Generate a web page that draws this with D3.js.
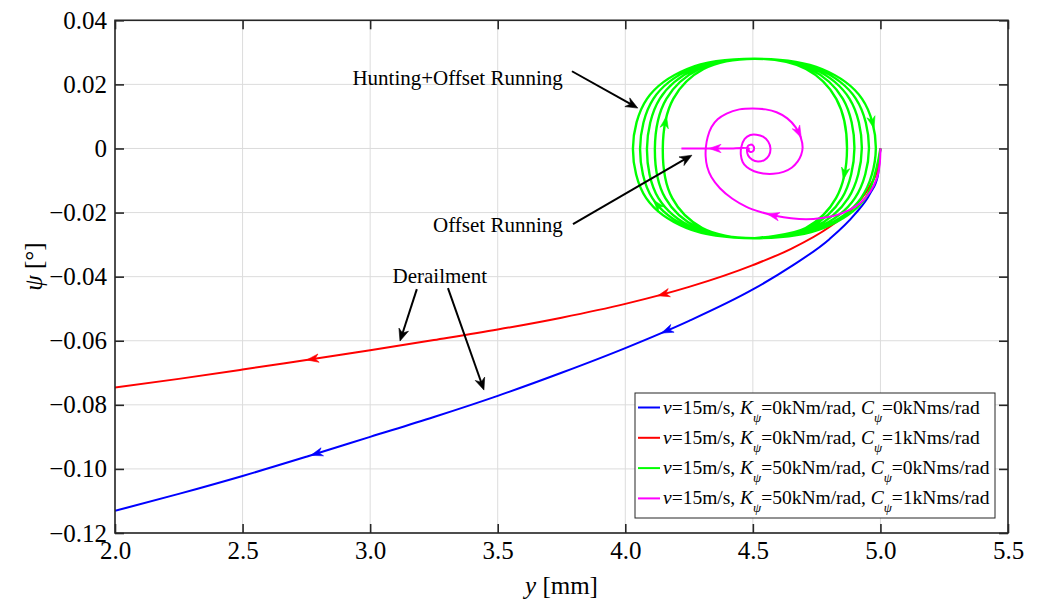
<!DOCTYPE html>
<html>
<head>
<meta charset="utf-8">
<script src="https://cdn.jsdelivr.net/npm/d3@7"></script>
<style>
  body { margin: 0; background: #fff; }
  svg text { font-family: "Liberation Serif", "Times New Roman", serif; fill: #000; }
</style>
</head>
<body>
<svg id="chart" width="1038" height="602"></svg>
<script>
// ---- axis ticks ----
const xTicks = [2.0, 2.5, 3.0, 3.5, 4.0, 4.5, 5.0, 5.5];
const yTicks = [0.04, 0.02, 0, -0.02, -0.04, -0.06, -0.08, -0.10, -0.12];
const yTickLabels = ["0.04", "0.02", "0", "\u22120.02", "\u22120.04", "\u22120.06", "\u22120.08", "\u22120.10", "\u22120.12"];

// ---- phase trajectories: [lateral displacement y (mm), yaw angle psi (deg)] ----
const trackK0C0 = [
  [5.000, 0], [4.990, -0.0085], [4.960, -0.0140], [4.900, -0.0205], [4.800, -0.0283],
  [4.650, -0.0368], [4.500, -0.0440], [4.250, -0.0538], [4.000, -0.0623], [3.750, -0.0700],
  [3.500, -0.0772], [3.250, -0.0838], [3.000, -0.0900], [2.750, -0.0962], [2.500, -0.1022],
  [2.250, -0.1078], [2.000, -0.1131]
];
const trackK0C1 = [
  [5.000, 0], [4.990, -0.0060], [4.960, -0.0115], [4.900, -0.0180], [4.800, -0.0245],
  [4.650, -0.0313], [4.500, -0.0364], [4.250, -0.0432], [4.000, -0.0485], [3.750, -0.0528],
  [3.500, -0.0565], [3.250, -0.0598], [3.000, -0.0630], [2.750, -0.0660], [2.500, -0.0690],
  [2.250, -0.0719], [2.000, -0.0746]
];
const trackK50C0 = [
  [5.000, 0],
  [4.941, -0.0155], [4.778, -0.0248], [4.507, -0.0280], [4.239, -0.0248], [4.082, -0.0155], [4.030, 0],
  [4.085, 0.0155], [4.242, 0.0248], [4.507, 0.0280], [4.771, 0.0248], [4.928, 0.0155], [4.982, 0],
  [4.924, -0.0155], [4.766, -0.0248], [4.507, -0.0280], [4.253, -0.0248], [4.106, -0.0155], [4.058, 0],
  [4.110, 0.0155], [4.258, 0.0248], [4.507, 0.0280], [4.756, 0.0248], [4.904, 0.0155], [4.955, 0],
  [4.900, -0.0155], [4.751, -0.0248], [4.507, -0.0280], [4.268, -0.0248], [4.130, -0.0155], [4.085, 0],
  [4.135, 0.0155], [4.274, 0.0248], [4.507, 0.0280], [4.740, 0.0248], [4.879, 0.0155], [4.927, 0],
  [4.874, -0.0155], [4.735, -0.0248], [4.507, -0.0280], [4.285, -0.0248], [4.157, -0.0155], [4.116, 0],
  [4.161, 0.0155], [4.290, 0.0248], [4.507, 0.0280], [4.724, 0.0248], [4.853, 0.0155], [4.898, 0],
  [4.849, -0.0155], [4.718, -0.0248], [4.507, -0.0280], [4.302, -0.0248], [4.184, -0.0155], [4.147, 0],
  [4.188, 0.0155], [4.307, 0.0248], [4.507, 0.0280], [4.708, 0.0248], [4.827, 0.0155], [4.869, 0],
  [4.826, -0.0155], [4.707, -0.0248], [4.507, -0.0280]
];
const trackK50C1 = [
  [5.000, 0], [4.997, -0.0050], [4.985, -0.0095], [4.960, -0.0135], [4.920, -0.0171],
  [4.875, -0.0193], [4.828, -0.0208], [4.770, -0.0217], [4.710, -0.0221], [4.650, -0.0218],
  [4.593, -0.0211], [4.530, -0.0198], [4.475, -0.0182], [4.420, -0.0157], [4.371, -0.0124],
  [4.338, -0.0090], [4.321, -0.0057], [4.315, -0.0025], [4.316, 0.0005], [4.323, 0.0036],
  [4.338, 0.0067], [4.362, 0.0091], [4.397, 0.0109], [4.447, 0.0122], [4.500, 0.0125],
  [4.550, 0.0122], [4.593, 0.0113], [4.635, 0.0094], [4.668, 0.0066], [4.688, 0.0034],
  [4.695, 0.0003], [4.689, -0.0021], [4.676, -0.0040], [4.652, -0.0060], [4.620, -0.0073],
  [4.580, -0.0079], [4.540, -0.0078], [4.505, -0.0071], [4.476, -0.0058], [4.460, -0.0042],
  [4.453, -0.0020], [4.455, 0.0005], [4.468, 0.0030], [4.490, 0.0042], [4.514, 0.0043],
  [4.540, 0.0037], [4.560, 0.0022], [4.569, 0.0000], [4.563, -0.0022], [4.545, -0.0036],
  [4.520, -0.0041], [4.497, -0.0035], [4.481, -0.0021], [4.477, -0.0004], [4.481, 0.0008],
  [4.491, 0.0012], [4.501, 0.0009], [4.505, 0.0000], [4.500, -0.0009], [4.490, -0.0011],
  [4.483, -0.0005], [4.484, 0.0000], [4.400, 0.0000], [4.300, 0.0000], [4.220, 0.0000]
];

// direction arrows along each trajectory (approximate locations)
const arrowsK0C0 = [[2.79, -0.0952], [4.162, -0.0567]];
const arrowsK0C1 = [[2.776, -0.0663], [4.148, -0.0452]];
const arrowsK50C0 = [[4.962, 0.0079], [4.850, -0.0077], [4.160, 0.0082], [4.125, -0.0177]];
const arrowsK50C1 = [[4.671, 0.0047], [4.578, -0.0214], [4.351, 0.0]];

// legend parameters
const legendSpeed = ["15", "15", "15", "15"];
const legendK = ["0", "0", "50", "50"];
const legendC = ["0", "1", "0", "1"];
const seriesColors = ["#0000ff", "#ff0000", "#00ff00", "#ff00ff"];

// annotations: text, anchor point, and leader arrows [from, to]
const annotations = [
  { text: "Hunting+Offset Running", at: [3.755, 0.0219], anchor: "end",
    arrows: [[[3.791, 0.0241], [4.049, 0.0126]]] },
  { text: "Offset Running", at: [3.755, -0.0240], anchor: "end",
    arrows: [[[3.795, -0.0236], [4.261, -0.0021]]] },
  { text: "Derailment", at: [3.273, -0.0398], anchor: "middle",
    arrows: [[[3.183, -0.0439], [3.117, -0.0601]], [[3.305, -0.0436], [3.446, -0.0754]]] }
];

// ---- layout ----
const serif = '"Liberation Serif", "Times New Roman", serif';
const svg = d3.select("#chart");
const plot = { left: 115, right: 1008, top: 20.3, bottom: 533 };
const x = d3.scaleLinear().domain([2, 5.5]).range([plot.left, plot.right]);
const y = d3.scaleLinear().domain([-0.12, 0.04]).range([plot.bottom, plot.top]);
const axisColor = "#262626";

// grid
const grid = svg.append("g");
grid.selectAll("line.gx").data(xTicks).join("line")
  .attr("x1", d => x(d)).attr("x2", d => x(d))
  .attr("y1", plot.top).attr("y2", plot.bottom)
  .attr("stroke", "#dcdcdc").attr("stroke-width", 1);
grid.selectAll("line.gy").data(yTicks).join("line")
  .attr("y1", d => y(d)).attr("y2", d => y(d))
  .attr("x1", plot.left).attr("x2", plot.right)
  .attr("stroke", "#dcdcdc").attr("stroke-width", 1);

// clip
svg.append("clipPath").attr("id", "clip").append("rect")
  .attr("x", plot.left).attr("y", plot.top)
  .attr("width", plot.right - plot.left).attr("height", plot.bottom - plot.top);

const smooth = d3.line().x(d => x(d[0])).y(d => y(d[1])).curve(d3.curveCatmullRom.alpha(0.5));
const monotone = d3.line().x(d => x(d[0])).y(d => y(d[1])).curve(d3.curveMonotoneX);
const curves = svg.append("g").attr("clip-path", "url(#clip)");
const series = [
  { data: trackK0C0, arrows: arrowsK0C0, color: seriesColors[0], w: 2, gen: monotone },
  { data: trackK0C1, arrows: arrowsK0C1, color: seriesColors[1], w: 2, gen: monotone },
  { data: trackK50C0, arrows: arrowsK50C0, color: seriesColors[2], w: 2.4, gen: smooth },
  { data: trackK50C1, arrows: arrowsK50C1, color: seriesColors[3], w: 2, gen: smooth }
];

function arrowHead(g, px, py, ang, color, len, half) {
  const c = Math.cos(ang), s = Math.sin(ang);
  const tip = [px + c * len / 2, py + s * len / 2];
  const bx = px - c * len / 2, by = py - s * len / 2;
  const p1 = [bx - s * half, by + c * half];
  const p2 = [bx + s * half, by - c * half];
  const notch = [px - c * len * 0.2, py - s * len * 0.2];
  g.append("path")
    .attr("d", `M${tip}L${p1}L${notch}L${p2}Z`)
    .attr("fill", color).attr("stroke", color).attr("stroke-width", 0.6);
}

series.forEach(s => {
  const path = curves.append("path")
    .attr("d", s.gen(s.data))
    .attr("fill", "none").attr("stroke", s.color)
    .attr("stroke-width", s.w).attr("stroke-linejoin", "round");
  const node = path.node();
  const total = node.getTotalLength();
  s.arrows.forEach(a => {
    const ax = x(a[0]), ay = y(a[1]);
    let best = 0, bestD = Infinity;
    for (let l = 0; l <= total; l += 0.5) {
      const p = node.getPointAtLength(l);
      const dd = (p.x - ax) ** 2 + (p.y - ay) ** 2;
      if (dd < bestD) { bestD = dd; best = l; }
    }
    const p0 = node.getPointAtLength(Math.max(0, best - 2));
    const p1 = node.getPointAtLength(Math.min(total, best + 2));
    const pc = node.getPointAtLength(best);
    arrowHead(curves, pc.x, pc.y, Math.atan2(p1.y - p0.y, p1.x - p0.x), s.color, 12, 4.2);
  });
});

// annotations
const ann = svg.append("g");
annotations.forEach(a => {
  ann.append("text")
    .attr("x", x(a.at[0])).attr("y", y(a.at[1]))
    .attr("text-anchor", a.anchor).attr("dominant-baseline", "central")
    .style("font-family", serif).style("font-size", "21px").text(a.text);
  a.arrows.forEach(([from, to]) => {
    const x1 = x(from[0]), y1 = y(from[1]), x2 = x(to[0]), y2 = y(to[1]);
    const ang = Math.atan2(y2 - y1, x2 - x1);
    ann.append("line")
      .attr("x1", x1).attr("y1", y1)
      .attr("x2", x2 - Math.cos(ang) * 8).attr("y2", y2 - Math.sin(ang) * 8)
      .attr("stroke", "#000").attr("stroke-width", 2);
    arrowHead(ann, x2 - Math.cos(ang) * 6, y2 - Math.sin(ang) * 6, ang, "#000", 12, 5);
  });
});

// axes box and inward ticks
const axes = svg.append("g");
axes.append("rect")
  .attr("x", plot.left).attr("y", plot.top)
  .attr("width", plot.right - plot.left).attr("height", plot.bottom - plot.top)
  .attr("fill", "none").attr("stroke", axisColor).attr("stroke-width", 1.6);

function styleAxis(g) {
  g.attr("font-family", null).attr("font-size", null);
  g.select(".domain").remove();
  g.selectAll(".tick line").attr("stroke", axisColor).attr("stroke-width", 1.6);
  g.selectAll(".tick text").attr("fill", "#000")
    .style("font-family", serif).style("font-size", "25px");
}
axes.append("g").attr("transform", `translate(0,${plot.bottom})`)
  .call(d3.axisBottom(x).tickValues(xTicks).tickSize(-9).tickPadding(8).tickFormat(d3.format(".1f")))
  .call(styleAxis);
axes.append("g").attr("transform", `translate(0,${plot.top})`)
  .call(d3.axisTop(x).tickValues(xTicks).tickSize(-9).tickFormat(""))
  .call(styleAxis);
axes.append("g").attr("transform", `translate(${plot.left},0)`)
  .call(d3.axisLeft(y).tickValues(yTicks).tickSize(-9).tickPadding(8)
    .tickFormat((d, i) => yTickLabels[i]))
  .call(styleAxis);
axes.append("g").attr("transform", `translate(${plot.right},0)`)
  .call(d3.axisRight(y).tickValues(yTicks).tickSize(-9).tickFormat(""))
  .call(styleAxis);

// axis titles
const xt = svg.append("text").attr("x", (plot.left + plot.right) / 2).attr("y", 585)
  .attr("text-anchor", "middle").attr("dominant-baseline", "central")
  .style("font-family", serif).style("font-size", "25px");
xt.append("tspan").attr("font-style", "italic").text("y");
xt.append("tspan").text(" [mm]");
const yt = svg.append("text")
  .attr("transform", `translate(33,${(plot.top + plot.bottom) / 2 - 10}) rotate(-90)`)
  .attr("text-anchor", "middle").attr("dominant-baseline", "central")
  .style("font-family", serif).style("font-size", "25px");
yt.append("tspan").attr("font-style", "italic").text("\u03c8");
yt.append("tspan").text(" [\u00b0]");

// legend
const lg = svg.append("g").attr("transform", "translate(635,393)");
lg.append("rect").attr("width", 360).attr("height", 125)
  .attr("fill", "#fff").attr("stroke", axisColor).attr("stroke-width", 1);
seriesColors.forEach((c, i) => {
  const cy = 14.5 + i * 30.3;
  lg.append("line").attr("x1", 3).attr("x2", 25).attr("y1", cy).attr("y2", cy)
    .attr("stroke", c).attr("stroke-width", 2);
  const t = lg.append("text").attr("x", 28).attr("y", cy + 6)
    .style("font-family", serif).style("font-size", "19.5px");
  t.append("tspan").attr("font-style", "italic").text("v");
  t.append("tspan").text(`=${legendSpeed[i]}m/s, `);
  t.append("tspan").attr("font-style", "italic").text("K");
  t.append("tspan").attr("font-style", "italic").style("font-size", "13px").attr("dy", 8).text("\u03c8");
  t.append("tspan").attr("dy", -8).text(`=${legendK[i]}kNm/rad, `);
  t.append("tspan").attr("font-style", "italic").text("C");
  t.append("tspan").attr("font-style", "italic").style("font-size", "13px").attr("dy", 8).text("\u03c8");
  t.append("tspan").attr("dy", -8).text(`=${legendC[i]}kNms/rad`);
});
</script>
</body>
</html>
